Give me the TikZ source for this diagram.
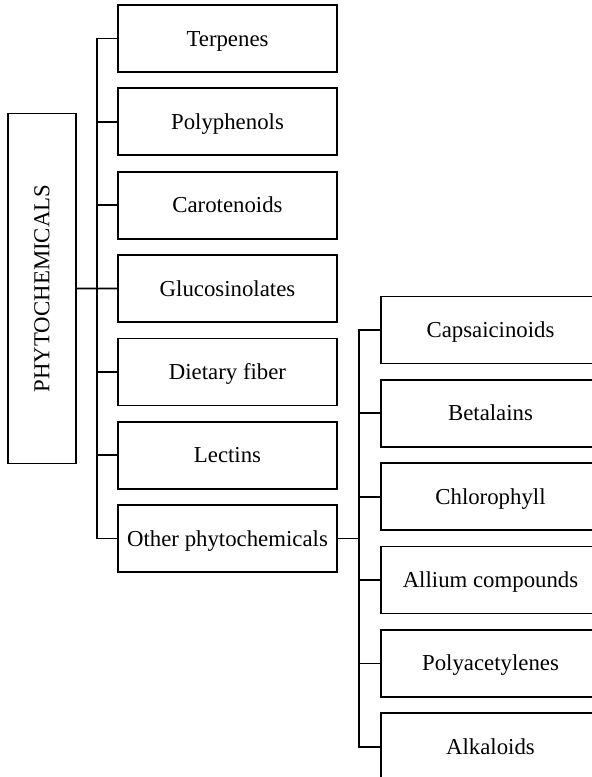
\documentclass[tikz,border=0pt]{standalone}
\usepackage{fontspec}
\setmainfont{Liberation Serif}
\usetikzlibrary{positioning}

\tikzset{
	cls/.style={draw, rectangle, line width=0.85pt, minimum width=109.5pt, minimum height=33.5pt, inner sep=0pt, outer sep=0pt, text height=7.5pt, text depth=0pt},
	link/.style={line width=0.85pt}
}

\begin{document}
\begin{tikzpicture}[font=\fontsize{11.4pt}{13pt}\selectfont, node distance=8.17pt]

	\clip (0,0) rectangle (296pt,-388.5pt);

	\node[cls, minimum width=34pt, minimum height=175pt, text height=, text depth=] (phyto) at (21pt,-144.25pt) {\rotatebox{90}{PHYTOCHEMICALS}};

	\node[cls] (terp) at (113.75pt,-19.25pt) {Terpenes};
	\node[cls, below=of terp] (poly) {Polyphenols};
	\node[cls, below=of poly] (caro) {Carotenoids};
	\node[cls, below=of caro] (gluc) {Glucosinolates};
	\node[cls, below=of gluc] (fiber) {Dietary fiber};
	\node[cls, below=of fiber] (lect) {Lectins};
	\node[cls, below=of lect] (other) {Other phytochemicals};

	\node[cls] (caps) at (245.25pt,-165pt) {Capsaicinoids};
	\node[cls, below=of caps] (beta) {Betalains};
	\node[cls, below=of beta] (chlo) {Chlorophyll};
	\node[cls, below=of chlo] (alli) {Allium compounds};
	\node[cls, below=of alli] (polya) {Polyacetylenes};
	\node[cls, below=of polya] (alka) {Alkaloids};

	\draw[link] (phyto.east) -- (gluc.west);
	\draw[link] (terp.west) -- ++(-10.5pt,0) |- (other.west);
	\foreach \n in {poly, caro, fiber, lect}
		\draw[link] (\n.west) -- ++(-10.5pt,0);

	\draw[link] (other.east) -- ++(11pt,0);
	\draw[link] (caps.west) -- ++(-11pt,0) |- (alka.west);
	\foreach \n in {beta, chlo, alli, polya}
		\draw[link] (\n.west) -- ++(-11pt,0);
\end{tikzpicture}
\end{document}
